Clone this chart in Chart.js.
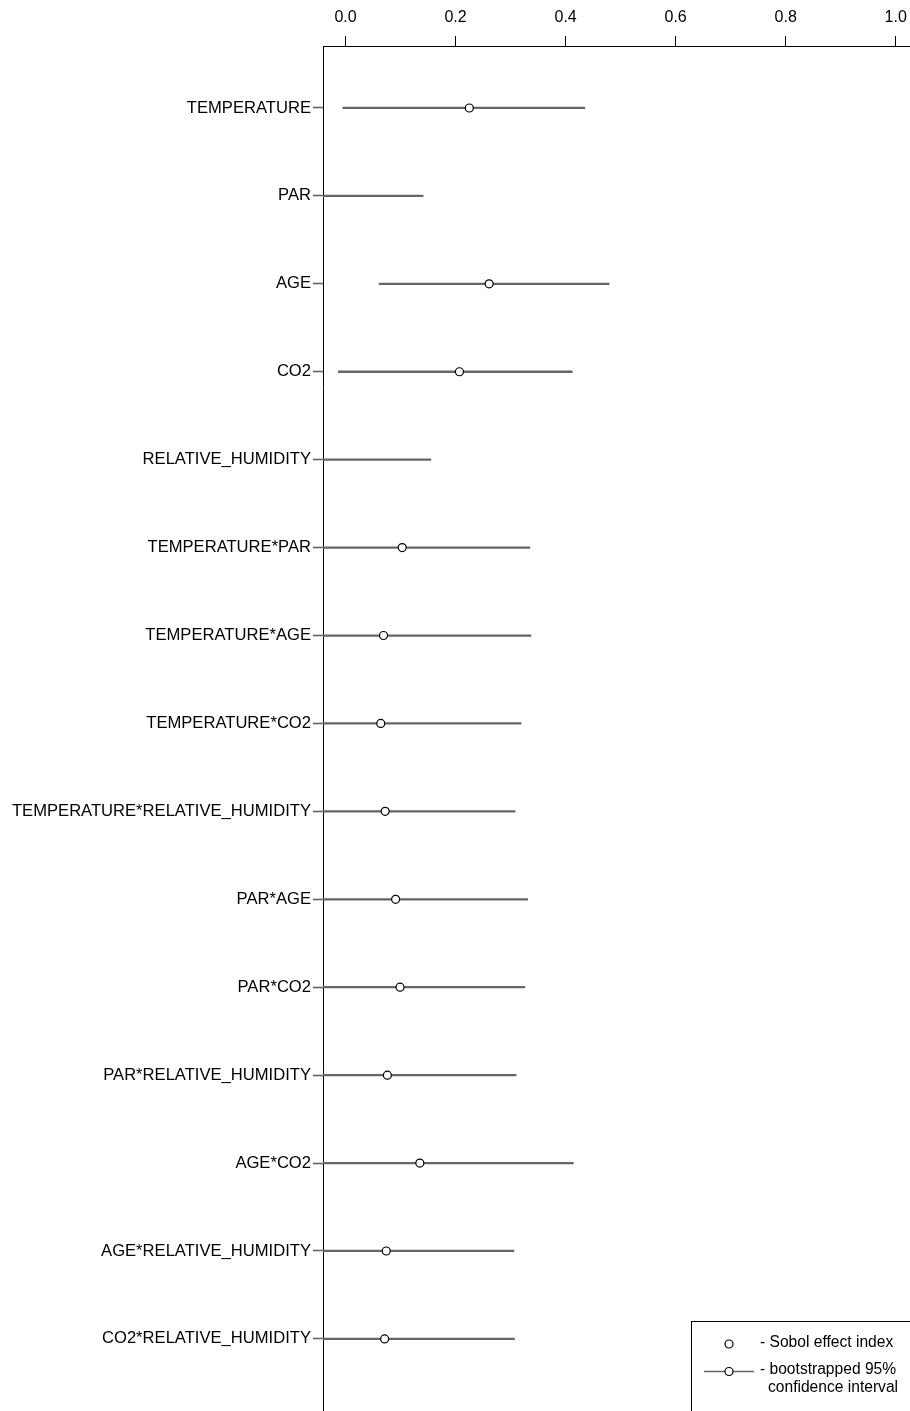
<!DOCTYPE html>
<html>
<head>
<meta charset="utf-8">
<script src="https://cdn.jsdelivr.net/npm/chart.js@4/dist/chart.umd.min.js"></script>
<style>
html,body{margin:0;padding:0;background:#fff;}
#wrap{width:910px;height:1411px;}
</style>
</head>
<body>
<div id="wrap"><canvas id="c" width="910" height="1411"></canvas></div>
<script>
const categories = [
  "TEMPERATURE", "PAR", "AGE", "CO2", "RELATIVE_HUMIDITY",
  "TEMPERATURE*PAR", "TEMPERATURE*AGE", "TEMPERATURE*CO2", "TEMPERATURE*RELATIVE_HUMIDITY",
  "PAR*AGE", "PAR*CO2", "PAR*RELATIVE_HUMIDITY", "AGE*CO2", "AGE*RELATIVE_HUMIDITY", "CO2*RELATIVE_HUMIDITY"
];
const sobolIndex = [0.225, -0.06, 0.261, 0.207, -0.06, 0.103, 0.069, 0.064, 0.072, 0.091, 0.099, 0.076, 0.135, 0.074, 0.071];
const ciLower   = [-0.005, -0.16, 0.061, -0.013, -0.15, -0.12, -0.12, -0.12, -0.12, -0.12, -0.12, -0.12, -0.12, -0.12, -0.12];
const ciUpper   = [0.435, 0.141, 0.479, 0.412, 0.155, 0.335, 0.337, 0.319, 0.308, 0.331, 0.326, 0.310, 0.414, 0.306, 0.307];
const xTickValues = [0.0, 0.2, 0.4, 0.6, 0.8, 1.0];

const FONT = "'Liberation Sans', Arial, Helvetica, sans-serif";
const LINE_COLOR = '#666666';

const legendPlugin = {
  id: 'boxLegend',
  afterDraw(chart) {
    const ctx = chart.ctx;
    ctx.save();
    ctx.strokeStyle = '#000';
    ctx.lineWidth = 1;
    ctx.strokeRect(691.5, 1321.5, 300, 200);
    const circ = (x, y) => {
      ctx.beginPath();
      ctx.arc(x, y, 4, 0, Math.PI * 2);
      ctx.fillStyle = '#fff';
      ctx.fill();
      ctx.strokeStyle = '#000';
      ctx.lineWidth = 1.2;
      ctx.stroke();
    };
    circ(729, 1344);
    ctx.beginPath();
    ctx.moveTo(704, 1371.5);
    ctx.lineTo(754, 1371.5);
    ctx.strokeStyle = LINE_COLOR;
    ctx.lineWidth = 1.6;
    ctx.stroke();
    circ(729, 1371.5);
    ctx.fillStyle = '#000';
    ctx.font = '15.6px ' + FONT;
    ctx.textBaseline = 'middle';
    ctx.textAlign = 'left';
    ctx.fillText('- Sobol effect index', 760, 1343);
    ctx.fillText('- bootstrapped 95%', 760, 1370);
    ctx.fillText('confidence interval', 768, 1388);
    ctx.restore();
  }
};

new Chart(document.getElementById('c'), {
  type: 'bar',
  data: {
    datasets: [
      {
        type: 'scatter',
        label: 'Sobol effect index',
        data: sobolIndex.map((v, i) => ({ x: v, y: i })),
        pointStyle: 'circle',
        pointRadius: 4,
        pointBorderWidth: 1.2,
        pointBorderColor: '#000',
        pointBackgroundColor: '#fff',
        showLine: false,
        xAxisID: 'x',
        yAxisID: 'y',
        order: 0
      },
      {
        type: 'bar',
        label: 'bootstrapped 95% confidence interval',
        data: ciLower.map((lo, i) => ({ x: [lo, ciUpper[i]], y: i })),
        backgroundColor: LINE_COLOR,
        borderWidth: 0,
        barThickness: 1.6,
        xAxisID: 'x',
        yAxisID: 'y',
        order: 1
      }
    ]
  },
  options: {
    indexAxis: 'y',
    responsive: false,
    animation: false,
    layout: { padding: 0, autoPadding: false },
    plugins: {
      legend: { display: false },
      tooltip: { enabled: false }
    },
    scales: {
      x: {
        type: 'linear',
        position: 'top',
        min: -0.041,
        max: 1.026,
        afterBuildTicks(scale) { scale.ticks = xTickValues.map(v => ({ value: v })); },
        afterFit(scale) { scale.height = 46; scale.paddingLeft = 0; scale.paddingRight = 0; },
        ticks: {
          callback: v => Number(v).toFixed(1),
          font: { family: FONT, size: 16 },
          color: '#000',
          padding: 9,
          maxRotation: 0
        },
        grid: {
          drawOnChartArea: false,
          drawTicks: true,
          tickLength: 10,
          tickColor: '#000',
          tickWidth: 1,
          offset: false
        },
        offset: false,
        border: { display: true, color: '#000', width: 1 }
      },
      y: {
        type: 'linear',
        position: 'left',
        reverse: true,
        offset: false,
        min: -0.705,
        max: 14.82,
        afterBuildTicks(scale) { scale.ticks = categories.map((c, i) => ({ value: i })); },
        afterFit(scale) { scale.width = 323; scale.paddingTop = 0; scale.paddingBottom = 0; },
        ticks: {
          callback: v => categories[v],
          font: { family: FONT, size: 16.6 },
          color: '#000',
          padding: 2,
          autoSkip: false
        },
        grid: {
          drawOnChartArea: false,
          drawTicks: true,
          tickLength: 10,
          tickColor: LINE_COLOR,
          tickWidth: 1.6,
          offset: false
        },
        border: { display: true, color: '#000', width: 1 }
      }
    }
  },
  plugins: [legendPlugin]
});
</script>
</body>
</html>
